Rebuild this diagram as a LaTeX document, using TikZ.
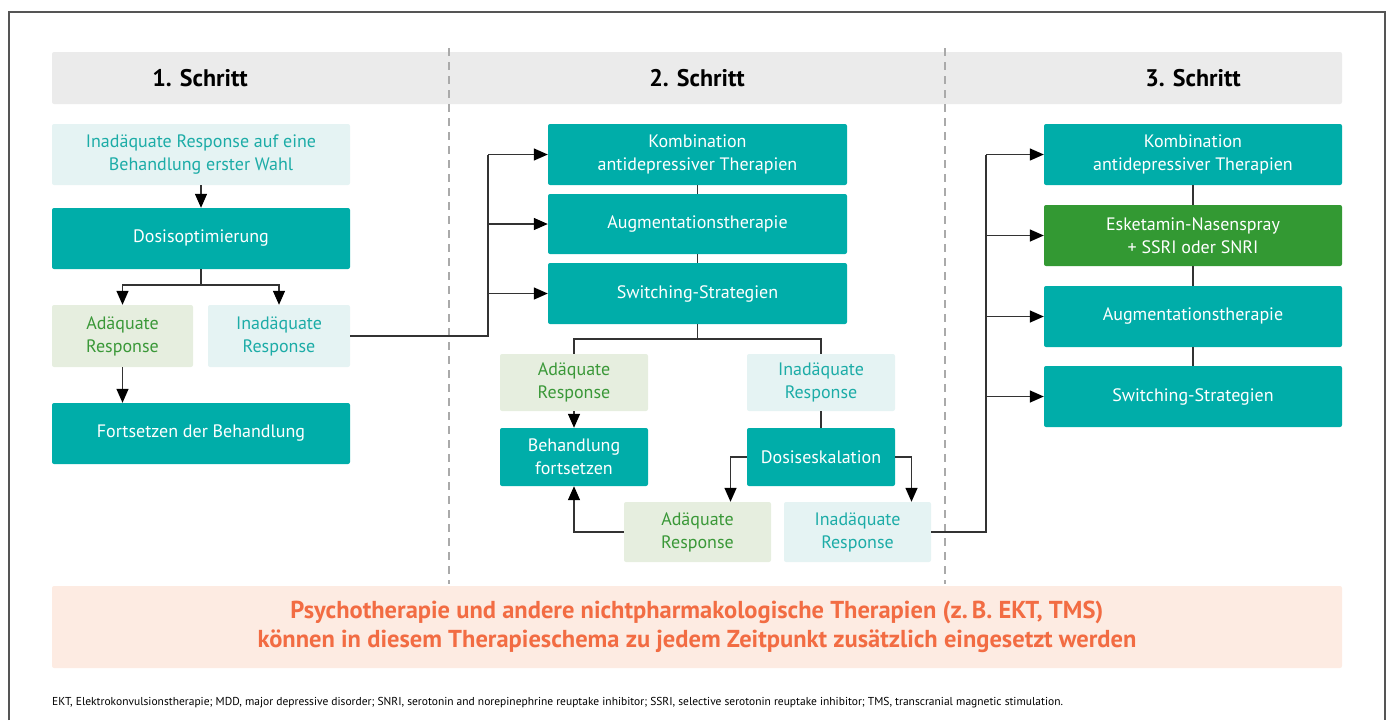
\documentclass[tikz,border=0pt]{standalone}
\usepackage{fontspec}
\setmainfont{PT Sans}
\usetikzlibrary{arrows.meta}
\definecolor{boxteal}{HTML}{00ADA9}
\definecolor{lightteal}{HTML}{E5F3F3}
\definecolor{textteal}{HTML}{1CACA7}
\definecolor{lightgreen}{HTML}{E6EEDF}
\definecolor{textgreen}{HTML}{3A9838}
\definecolor{eskgreen}{HTML}{339933}
\definecolor{headgray}{HTML}{EBEBEB}
\definecolor{lightorange}{HTML}{FDEBE2}
\definecolor{textorange}{HTML}{F26C43}
\definecolor{linegray}{HTML}{333333}
\definecolor{sepgray}{HTML}{AAAAAA}
\definecolor{framegray}{HTML}{555555}
\tikzset{
  box/.style={rounded corners=2pt, inner sep=0pt, align=center, font=\fontsize{18}{23}\selectfont},
  tealbox/.style={box, fill=boxteal, text=white},
  greenbox/.style={box, fill=lightgreen, text=textgreen},
  inadbox/.style={box, fill=lightteal, text=textteal},
  wide/.style={minimum width=298pt, minimum height=61pt},
  small/.style={minimum width=148pt, minimum height=58pt},
  link/.style={draw=linegray, line width=1.4pt},
  arr/.style={link, -{Triangle[length=14pt,width=12pt,color=black]}},
  headtxt/.style={font=\fontsize{24}{28}\selectfont\bfseries},
  separator/.style={draw=sepgray, line width=1.2pt, dash pattern=on 8pt off 6pt}
}
\begin{document}
\begin{tikzpicture}[x=1pt,y=-1pt]
\useasboundingbox (0,0) rectangle (1391,720);
\draw[draw=framegray, line width=2pt] (9,720) -- (9,12) -- (1385,12) -- (1385,720);
\fill[headgray, rounded corners=2pt] (52,52) rectangle (1342,104);
\draw[separator] (449,48) -- (449,584);
\draw[separator] (945,48) -- (945,584);
\node[headtxt] (head1) at (200,78) {1. Schritt};
\node[headtxt] (head2) at (697,78) {2. Schritt};
\node[headtxt] (head3) at (1193,78) {3. Schritt};
\node[inadbox, wide] (inadfirst) at (201,154.5) {Inadäquate Response auf eine\\Behandlung erster Wahl};
\node[tealbox, wide] (dosopt) at (201,238.5) {Dosisoptimierung};
\node[greenbox, minimum width=141pt, minimum height=62pt] (adone) at (122.5,336) {Adäquate\\Response};
\node[inadbox, minimum width=142pt, minimum height=62pt] (inadone) at (279,336) {Inadäquate\\Response};
\node[tealbox, wide] (fortone) at (201,433.5) {Fortsetzen der Behandlung};
\node[tealbox, minimum width=299pt, minimum height=61pt] (komtwo) at (697.5,154.5) {Kombination\\antidepressiver Therapien};
\node[tealbox, minimum width=299pt, minimum height=60pt] (augtwo) at (697.5,224) {Augmentationstherapie};
\node[tealbox, minimum width=299pt, minimum height=61pt] (swtwo) at (697.5,293.5) {Switching-Strategien};
\node[greenbox, small, minimum height=57pt] (adtwo) at (574,382.5) {Adäquate\\Response};
\node[tealbox, small] (behtwo) at (574,457) {Behandlung\\fortsetzen};
\node[inadbox, small, minimum height=57pt] (inadtwo) at (821,382.5) {Inadäquate\\Response};
\node[tealbox, small] (doseskal) at (821,457) {Dosiseskalation};
\node[greenbox, minimum width=147pt, minimum height=60pt] (adthree) at (697.5,532) {Adäquate\\Response};
\node[inadbox, minimum width=147pt, minimum height=60pt] (inadthree) at (857.5,532) {Inadäquate\\Response};
\node[tealbox, wide] (komthree) at (1193,154.5) {Kombination\\antidepressiver Therapien};
\node[box, wide, fill=eskgreen, text=white] (esk) at (1193,235.5) {Esketamin-Nasenspray\\+ SSRI oder SNRI};
\node[tealbox, wide] (augthree) at (1193,316.5) {Augmentationstherapie};
\node[tealbox, wide] (swthree) at (1193,396.5) {Switching-Strategien};
\node[box, fill=lightorange, text=textorange, minimum width=1290pt, minimum height=82pt, font=\fontsize{24.5}{29}\selectfont\bfseries] (psycho) at (697,627) {Psychotherapie und andere nichtpharmakologische Therapien (z.\,B. EKT, TMS)\\können in diesem Therapieschema zu jedem Zeitpunkt zusätzlich eingesetzt werden};
\node[anchor=west, inner sep=0pt, font=\fontsize{11.5}{13}\selectfont] (foot) at (52,703) {EKT, Elektrokonvulsionstherapie; MDD, major depressive disorder; SNRI, serotonin and norepinephrine reuptake inhibitor; SSRI, selective serotonin reuptake inhibitor; TMS, transcranial magnetic stimulation.};
\coordinate (splitone) at (201,285);
\coordinate (railtwo) at (488,0);
\coordinate (splittwo) at (697.5,339);
\coordinate (railthree) at (986,0);
\draw[arr] (inadfirst) -- (dosopt);
\draw[link] (dosopt.south) -- (splitone);
\draw[arr] (splitone) -| (adone.north);
\draw[arr] (splitone) -| (inadone.north);
\draw[arr] (adone.south) -- (adone.south |- fortone.north);
\draw[link] (inadone.east) -- (railtwo |- inadone.east) -- (railtwo |- komtwo.west);
\draw[arr] (railtwo |- komtwo.west) -- (komtwo.west);
\draw[arr] (railtwo |- augtwo.west) -- (augtwo.west);
\draw[arr] (railtwo |- swtwo.west) -- (swtwo.west);
\draw[link] (komtwo) -- (augtwo);
\draw[link] (augtwo) -- (swtwo);
\draw[link] (swtwo.south) -- (splittwo);
\draw[link] (splittwo) -| (adtwo.north);
\draw[link] (splittwo) -| (inadtwo.north);
\draw[arr] (adtwo) -- (behtwo);
\draw[link] (inadtwo) -- (doseskal);
\draw[arr] (doseskal.west) -| ([xshift=33pt]adthree.north);
\draw[arr] (doseskal.east) -| ([xshift=54pt]inadthree.north);
\draw[arr] (adthree.west) -| (behtwo.south);
\draw[link] (inadthree.east) -- (railthree |- inadthree.east) -- (railthree |- komthree.west);
\draw[arr] (railthree |- komthree.west) -- (komthree.west);
\draw[arr] (railthree |- esk.west) -- (esk.west);
\draw[arr] (railthree |- augthree.west) -- (augthree.west);
\draw[arr] (railthree |- swthree.west) -- (swthree.west);
\draw[link] (komthree) -- (esk);
\draw[link] (esk) -- (augthree);
\draw[link] (augthree) -- (swthree);
\end{tikzpicture}
\end{document}
